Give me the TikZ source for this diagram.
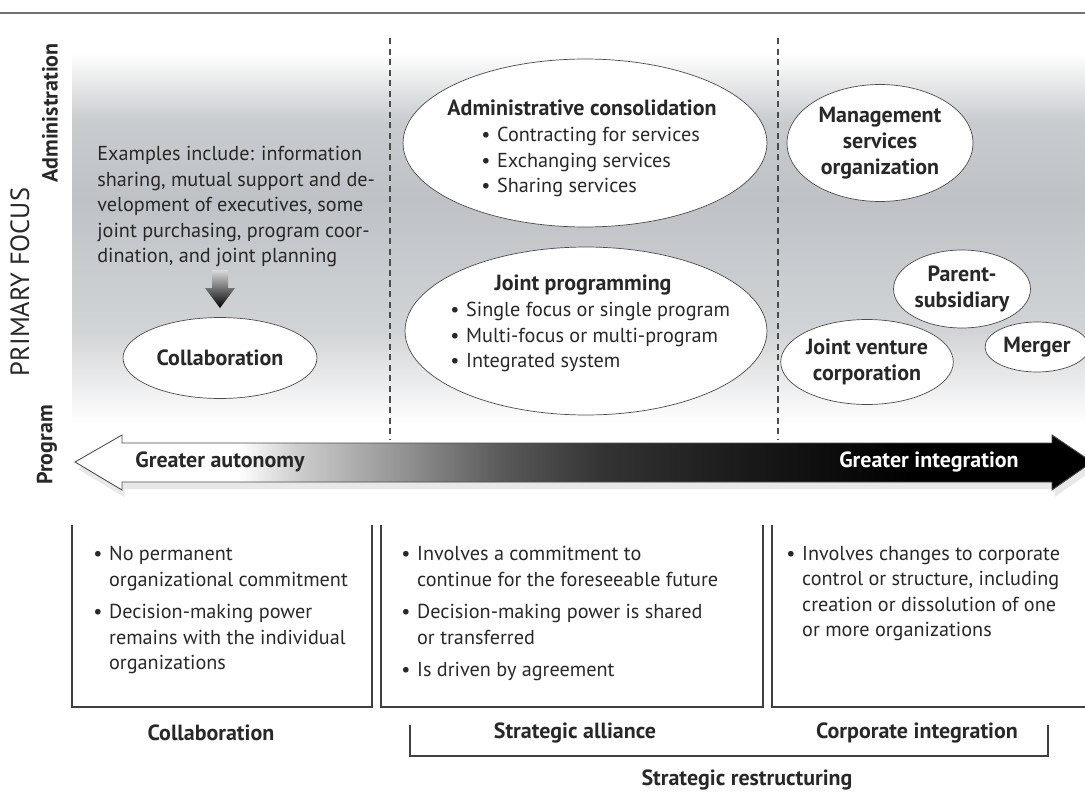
\documentclass[tikz,border=0pt]{standalone}
\usepackage{fontspec}
\setmainfont{PT Sans}
\usetikzlibrary{shapes, shadows, positioning}

\definecolor{ink}{RGB}{40,40,40}
\definecolor{bandgray}{RGB}{190,194,198}
\pgfdeclareverticalshading{focusband}{100bp}{color(0bp)=(white); color(26bp)=(white); color(38bp)=(bandgray!70); color(55bp)=(bandgray); color(65bp)=(bandgray!85); color(74bp)=(white); color(100bp)=(white)}
\pgfdeclarehorizontalshading{autonomy}{100bp}{color(0bp)=(white); color(33bp)=(white); color(36bp)=(black!20); color(41bp)=(black!42); color(46bp)=(black!65); color(51bp)=(black!80); color(58bp)=(black!90); color(66bp)=(black); color(100bp)=(black)}
\newcommand{\bul}{\makebox[9pt][l]{\textbullet}}
\newcommand{\ind}{\hspace*{9pt}}

\begin{document}
\begin{tikzpicture}[x=0.02cm, y=-0.02cm, text=ink,
  every node/.style={font=\fontsize{11.5}{14.5}\selectfont},
  bubble/.style 2 args={ellipse, draw=black!70, fill=white, minimum width=#1, minimum height=#2, inner sep=0pt, align=center, font=\fontsize{12.5}{14.7}\selectfont\bfseries},
  title/.style={font=\fontsize{12.5}{14.7}\selectfont\bfseries},
  items/.style={anchor=north west, inner sep=0pt, align=left},
  box/.style={draw=black!75, line width=0.7pt},
  divider/.style={draw=black!70, dash pattern=on 3.5pt off 2.5pt, line width=0.6pt}]

\useasboundingbox (0,0) rectangle (1085,791);

% Background band, rule and dividers
\shade[shading=focusband] (72,45) rectangle (1085,432);
\draw[black!55, line width=1pt] (0,13) -- (1085,13);
\draw[divider] (390,38) -- (390,440);
\draw[divider] (778,38) -- (778,440);

% Side labels
\node[rotate=90, font=\fontsize{15}{17}\selectfont] (focus) at (20,282) {PRIMARY FOCUS};
\node[rotate=90, title] (admin) at (50,113) {Administration};
\node[rotate=90, title] (prog) at (47,445) {Program};

% Collaboration column
\node[items] (examples) at (97,146) {Examples include: information\\ sharing, mutual support and de-\\velopment of executives, some\\ joint purchasing, program coor-\\dination, and joint planning};
\shade[top color=bandgray!60, bottom color=black] (212,270) -- (228,270) -- (228,288) -- (235,288) -- (220,308) -- (205,288) -- (212,288) -- cycle;
\node[bubble={3.88cm}{1.62cm}] (collab) at (220,358) {Collaboration};

% Strategic alliance column
\node[bubble={7.28cm}{3.36cm}] (consol) at (585,143) {};
\node[title] (consolhead) at (582,108) {Administrative consolidation};
\node[items] (consolitems) at (481,127) {\bul Contracting for services\\ \bul Exchanging services\\ \bul Sharing services};
\node[bubble={7.24cm}{3.36cm}] (jointprog) at (586,331) {};
\node[title] (jointproghead) at (583,285) {Joint programming};
\node[items] (jointprogitems) at (450,302) {\bul Single focus or single program\\ \bul Multi-focus or multi-program\\ \bul Integrated system};

% Corporate integration column
\node[bubble={3.72cm}{2.34cm}] (mso) at (880,143) {Management\\ services\\ organization};
\node[bubble={2.74cm}{1.56cm}] (parent) at (962,289) {Parent-\\ subsidiary};
\node[bubble={3.2cm}{1.7cm}] (venture) at (867,362) {Joint venture\\ corporation};
\node[bubble={2.08cm}{1.0cm}] (merger) at (1037,347) {Merger};

% The arrow
\shadedraw[draw=black!70, line width=0.5pt, shading=autonomy, drop shadow={opacity=0.18, shadow xshift=1.5pt, shadow yshift=-4pt}]
  (75,462) -- (122,435) -- (122,443) -- (1052,443) -- (1052,435) -- (1092,462)
  -- (1052,490) -- (1052,482) -- (122,482) -- (122,490) -- cycle;
\node[title] (autonomy) at (220,462) {Greater autonomy};
\node[title, text=white] (integration) at (929,462) {Greater integration};

% Description boxes
\draw[box] (72,525) |- (372,707) -- (372,525);
\draw[box] (381,525) |- (763,707) -- (763,525);
\draw[box] (772,525) |- (1085,707);
\node[items] (collabnotes) at (93,546) {\bul No permanent\\ \ind organizational commitment\\[4pt] \bul Decision-making power\\ \ind remains with the individual\\ \ind organizations};
\node[items] (alliancenotes) at (401,546) {\bul Involves a commitment to\\ \ind continue for the foreseeable future\\[4pt] \bul Decision-making power is shared\\ \ind or transferred\\[4pt] \bul Is driven by agreement};
\node[items] (corpnotes) at (786,546) {\bul Involves changes to corporate\\ \ind control or structure, including\\ \ind creation or dissolution of one\\ \ind or more organizations};

% Column names
\node[title] (collabname) at (211,733) {Collaboration};
\node[title] (alliancename) at (575,733) {Strategic alliance};
\node[title] (corpname) at (917,733) {Corporate integration};
\draw[box] (410,725) |- (1048,756) -- (1048,725);
\node[title] (restructuring) at (747,780) {Strategic restructuring};
\end{tikzpicture}
\end{document}
